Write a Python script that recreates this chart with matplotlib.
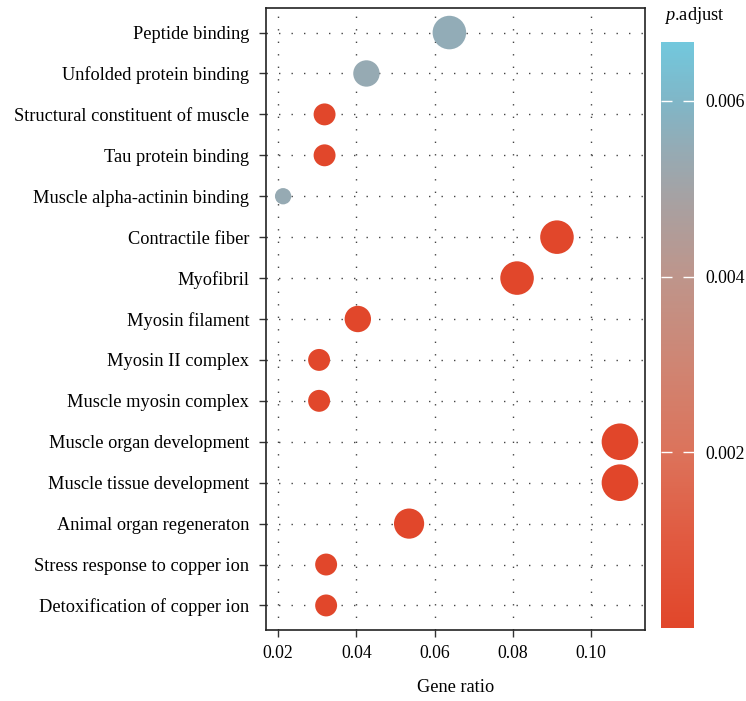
import numpy as np
import matplotlib.pyplot as plt
from matplotlib.colors import LinearSegmentedColormap, Normalize

plt.rcParams['font.family'] = ['Liberation Serif', 'DejaVu Serif']
plt.rcParams['mathtext.fontset'] = 'custom'
plt.rcParams['mathtext.rm'] = 'Liberation Serif'
plt.rcParams['mathtext.it'] = 'Liberation Serif:italic'

# GO terms, top to bottom
terms = ['Peptide binding', 'Unfolded protein binding',
         'Structural constituent of muscle', 'Tau protein binding',
         'Muscle alpha-actinin binding', 'Contractile fiber', 'Myofibril',
         'Myosin filament', 'Myosin II complex', 'Muscle myosin complex',
         'Muscle organ development', 'Muscle tissue development',
         'Animal organ regeneraton', 'Stress response to copper ion',
         'Detoxification of copper ion']
gene_ratio = [0.0638, 0.0426, 0.0319, 0.0319, 0.0213,
              0.0913, 0.0811, 0.0404, 0.0305, 0.0305,
              0.1074, 0.1074, 0.0535, 0.0323, 0.0323]
counts = [6, 4, 3, 3, 2, 6, 6, 4, 3, 3, 7, 7, 5, 3, 3]
p_adjust = [0.0055, 0.0054, 0.00005, 0.00005, 0.0054,
            0.00005, 0.00005, 0.00005, 0.00005, 0.00005,
            0.00002, 0.00002, 0.00005, 0.00005, 0.00005]

xticks = [0.02, 0.04, 0.06, 0.08, 0.10]
cbar_ticks = [0.002, 0.004, 0.006]

cmap = LinearSegmentedColormap.from_list('padj', [
    (0.00, '#E1462A'), (0.15, '#E15A40'), (0.30, '#DC735B'),
    (0.45, '#CF8573'), (0.60, '#BE958B'), (0.72, '#A9A0A0'),
    (0.82, '#94ABB5'), (0.90, '#80B6C7'), (1.00, '#72C8DD')])
norm = Normalize(vmin=0.0, vmax=0.00667)

fig = plt.figure(figsize=(7.46, 7.01), dpi=100)
ax = fig.add_axes([266/746, 71/701, 379/746, 622/701])

y = np.arange(len(terms))
# marker area grows linearly with gene count
diam_px = np.sqrt(-164 + 215 * np.array(counts))
sizes = (diam_px * 72 / 100) ** 2

ax.scatter(gene_ratio, y, s=sizes, c=p_adjust, cmap=cmap, norm=norm,
           edgecolors='none', zorder=3)

ax.set_xlim(0.01693, 0.1138)
ax.set_ylim(len(terms) - 0.4, -0.6)
ax.set_yticks(y)
ax.set_yticklabels(terms, fontsize=13.2)
ax.set_xticks(xticks)
ax.set_xticklabels(['%.2f' % v for v in xticks], fontsize=12.8)
ax.set_xlabel('Gene ratio', fontsize=13.2, labelpad=12)
ax.tick_params(axis='y', length=5, width=1, color='#333333', pad=7)
ax.tick_params(axis='x', length=5, width=1, color='#333333', pad=6)

ax.grid(True, color='#444444', linestyle=(0, (1, 8)), linewidth=1.0)
ax.set_axisbelow(True)
for sp in ax.spines.values():
    sp.set_linewidth(1.2)
    sp.set_color('#222222')

# colour bar
cax = fig.add_axes([661/746, 73/701, 33/746, 586/701])
sm = plt.cm.ScalarMappable(norm=norm, cmap=cmap)
cb = fig.colorbar(sm, cax=cax)
cb.outline.set_visible(False)
cb.set_ticks(cbar_ticks)
cb.set_ticklabels(['%.3f' % v for v in cbar_ticks])
cax.tick_params(axis='y', direction='in', color='white', length=8, width=1,
                left=True, right=True, labelleft=False, labelright=True,
                labelsize=12.8, pad=8)
fig.text(664/746, 1 - 15/701, r'$\it{p}$.adjust', fontsize=13.2,
         ha='left', va='center')

fig.savefig('out.png', dpi=100)
